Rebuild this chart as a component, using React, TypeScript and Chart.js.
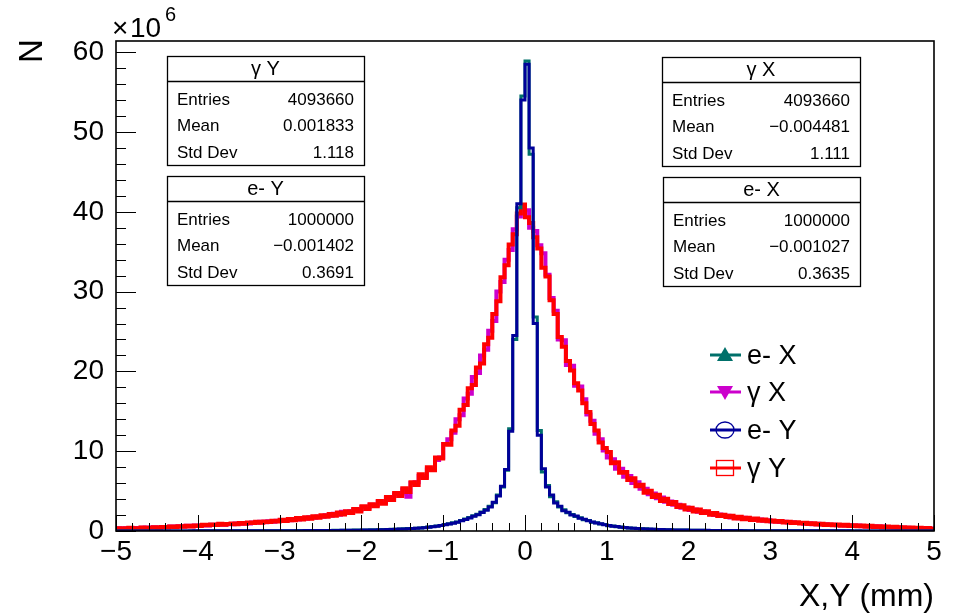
import React, { useEffect, useRef } from 'react';
import { Chart, registerables } from 'chart.js';

Chart.register(...registerables);

// ---------- data (values in units of 10^6) ----------
const X_MIN = -5;
const X_MAX = 5;
const BIN_WIDTH = 0.05;
const Y_MAX = 61.4;
const X_TICKS = [-5, -4, -3, -2, -1, 0, 1, 2, 3, 4, 5];
const Y_TICKS = [0, 10, 20, 30, 40, 50, 60];

const GAMMA_Y = [
  0.36, 0.25, 0.33, 0.41, 0.28, 0.35, 0.44, 0.32, 0.4, 0.47, 0.38, 0.5, 0.43, 0.55, 0.46, 0.6, 0.52, 0.66, 0.57, 0.7,
  0.64, 0.79, 0.71, 0.83, 0.74, 0.9, 0.78, 0.87, 0.95, 0.84, 1.0, 0.92, 1.07, 0.99, 1.15, 1.04, 1.2, 1.14, 1.3, 1.19,
  1.42, 1.24, 1.5, 1.36, 1.62, 1.44, 1.72, 1.52, 1.85, 1.66, 1.98, 1.78, 2.14, 1.92, 2.32, 2.08, 2.48, 2.24, 2.75, 2.45,
  3.1, 2.75, 3.35, 3.1, 3.75, 3.4, 4.25, 3.9, 4.75, 4.4, 5.35, 4.9, 6.1, 5.75, 7.1, 6.65, 8.0, 7.6, 9.2, 9.1,
  10.9, 10.8, 12.6, 13.2, 15.2, 15.8, 17.9, 18.3, 20.5, 21.0, 23.4, 24.2, 27.2, 28.8, 31.8, 33.3, 35.9, 37.2, 39.8, 40.9,
  39.3, 38.6, 36.8, 35.4, 33.0, 31.9, 28.9, 27.2, 24.3, 23.1, 21.3, 20.1, 18.5, 17.6, 16.0, 14.9, 13.4, 12.6, 11.1, 10.4,
  9.9, 8.5, 8.6, 7.3, 7.4, 6.4, 6.6, 5.6, 5.8, 4.8, 5.05, 4.25, 4.55, 3.75, 4.05, 3.38, 3.62, 3.02, 3.22, 2.7,
  2.9, 2.44, 2.68, 2.25, 2.46, 2.05, 2.26, 1.88, 2.05, 1.74, 1.9, 1.58, 1.78, 1.48, 1.67, 1.38, 1.56, 1.3, 1.44, 1.21,
  1.32, 1.15, 1.24, 1.07, 1.17, 1.0, 1.1, 0.94, 1.04, 0.87, 0.97, 0.82, 0.92, 0.76, 0.86, 0.72, 0.81, 0.67, 0.77, 0.63,
  0.73, 0.58, 0.69, 0.53, 0.65, 0.49, 0.6, 0.45, 0.56, 0.41, 0.52, 0.38, 0.48, 0.34, 0.44, 0.31, 0.41, 0.28, 0.37, 0.27,
];

const GAMMA_X = [
  0.33, 0.29, 0.36, 0.33, 0.39, 0.35, 0.4, 0.43, 0.4, 0.47, 0.44, 0.51, 0.47, 0.56, 0.52, 0.61, 0.57, 0.65, 0.61, 0.7,
  0.68, 0.75, 0.7, 0.79, 0.74, 0.83, 0.79, 0.88, 0.84, 0.94, 0.9, 1.0, 0.95, 1.07, 1.02, 1.15, 1.09, 1.22, 1.16, 1.3,
  1.27, 1.38, 1.36, 1.5, 1.45, 1.62, 1.55, 1.72, 1.66, 1.82, 1.8, 1.98, 1.92, 2.15, 2.05, 2.4, 2.3, 2.48, 2.7, 2.62,
  3.0, 2.95, 3.3, 3.25, 3.7, 3.6, 4.1, 4.2, 4.6, 4.7, 5.2, 4.3, 6.0, 6.1, 6.9, 6.8, 7.7, 7.8, 8.9, 9.2,
  10.9, 11.5, 12.3, 14.0, 14.5, 16.6, 17.2, 19.3, 19.8, 22.0, 22.7, 25.1, 26.3, 30.0, 31.2, 34.0, 35.2, 37.8, 39.4, 40.5,
  40.2, 38.0, 37.6, 35.8, 34.8, 32.1, 29.2, 27.6, 24.0, 23.9, 20.8, 20.7, 18.2, 18.1, 16.5, 14.6, 13.8, 12.2, 11.5, 10.1,
  9.2, 9.0, 7.8, 7.8, 6.8, 6.9, 6.0, 6.1, 5.3, 5.3, 4.6, 4.7, 4.1, 4.2, 3.65, 3.7, 3.3, 3.3, 2.9, 2.95,
  2.62, 2.7, 2.4, 2.45, 2.28, 2.24, 2.02, 2.08, 1.88, 1.9, 1.7, 1.76, 1.6, 1.66, 1.52, 1.5, 1.4, 1.45, 1.3, 1.35,
  1.2, 1.25, 1.12, 1.16, 1.05, 1.09, 0.99, 1.01, 0.92, 0.96, 0.86, 0.9, 0.8, 0.84, 0.77, 0.79, 0.71, 0.75, 0.69, 0.71,
  0.63, 0.68, 0.58, 0.63, 0.56, 0.58, 0.49, 0.55, 0.47, 0.49, 0.41, 0.47, 0.39, 0.41, 0.36, 0.38, 0.31, 0.35, 0.3, 0.32,
];

const ELEC_Y = [
  0.009, 0.009, 0.01, 0.009, 0.01, 0.01, 0.011, 0.01, 0.011, 0.012,
  0.011, 0.012, 0.012, 0.013, 0.012, 0.013, 0.014, 0.014, 0.015, 0.016,
  0.016, 0.017, 0.017, 0.018, 0.019, 0.02, 0.02, 0.021, 0.022, 0.023,
  0.024, 0.025, 0.026, 0.027, 0.028, 0.029, 0.03, 0.031, 0.033, 0.034,
  0.035, 0.037, 0.039, 0.041, 0.043, 0.045, 0.048, 0.05, 0.053, 0.056,
  0.06, 0.063, 0.067, 0.072, 0.076, 0.081, 0.086, 0.091, 0.097, 0.103,
  0.11, 0.12, 0.13, 0.14, 0.15, 0.165, 0.18, 0.2, 0.215, 0.235,
  0.26, 0.29, 0.31, 0.35, 0.38, 0.42, 0.47, 0.53, 0.6, 0.68,
  0.78, 0.88, 0.98, 1.1, 1.28, 1.45, 1.62, 1.85, 2.05, 2.32,
  2.6, 3.02, 3.6, 4.4, 5.6, 7.7, 12.5, 24.5, 41.0, 54.0,
  58.5, 48.0, 26.0, 12.0, 7.8, 5.5, 4.5, 3.5, 3.1, 2.55,
  2.35, 2.0, 1.88, 1.6, 1.47, 1.27, 1.14, 0.99, 0.92, 0.78,
  0.7, 0.58, 0.55, 0.46, 0.44, 0.37, 0.35, 0.3, 0.29, 0.25,
  0.24, 0.22, 0.2, 0.18, 0.17, 0.15, 0.14, 0.13, 0.12, 0.11,
  0.1, 0.095, 0.09, 0.085, 0.08, 0.075, 0.07, 0.066, 0.062, 0.058,
  0.055, 0.052, 0.049, 0.046, 0.044, 0.042, 0.04, 0.038, 0.036, 0.034,
  0.032, 0.031, 0.03, 0.029, 0.028, 0.027, 0.026, 0.025, 0.024, 0.023,
  0.022, 0.021, 0.02, 0.02, 0.019, 0.018, 0.018, 0.017, 0.016, 0.016,
  0.015, 0.015, 0.014, 0.014, 0.013, 0.013, 0.012, 0.012, 0.012, 0.011,
  0.011, 0.011, 0.01, 0.01, 0.01, 0.01, 0.009, 0.009, 0.009, 0.009,
];

const ELEC_X = [
  0.01, 0.009, 0.009, 0.01, 0.011, 0.01, 0.01, 0.012, 0.011, 0.011,
  0.012, 0.012, 0.013, 0.012, 0.014, 0.013, 0.015, 0.015, 0.016, 0.015,
  0.017, 0.018, 0.018, 0.019, 0.02, 0.021, 0.021, 0.022, 0.024, 0.024,
  0.025, 0.027, 0.027, 0.029, 0.03, 0.031, 0.033, 0.034, 0.036, 0.037,
  0.039, 0.041, 0.043, 0.046, 0.048, 0.051, 0.054, 0.057, 0.06, 0.064,
  0.068, 0.072, 0.077, 0.082, 0.087, 0.093, 0.099, 0.106, 0.113, 0.12,
  0.128, 0.137, 0.147, 0.158, 0.17, 0.183, 0.197, 0.212, 0.228, 0.246,
  0.27, 0.3, 0.32, 0.36, 0.39, 0.44, 0.49, 0.56, 0.63, 0.7,
  0.82, 0.9, 1.03, 1.14, 1.33, 1.5, 1.68, 1.9, 2.1, 2.38,
  2.68, 3.1, 3.55, 4.5, 5.5, 7.6, 12.8, 24.0, 40.5, 54.5,
  58.9, 47.2, 26.8, 12.6, 7.4, 5.7, 4.3, 3.65, 3.0, 2.65,
  2.28, 2.08, 1.82, 1.66, 1.42, 1.32, 1.1, 1.04, 0.88, 0.82,
  0.67, 0.62, 0.52, 0.49, 0.42, 0.39, 0.33, 0.32, 0.27, 0.27,
  0.23, 0.23, 0.19, 0.19, 0.16, 0.16, 0.13, 0.135, 0.115, 0.115,
  0.098, 0.097, 0.088, 0.087, 0.078, 0.077, 0.068, 0.068, 0.06, 0.06,
  0.053, 0.054, 0.047, 0.048, 0.042, 0.044, 0.038, 0.04, 0.034, 0.036,
  0.031, 0.032, 0.029, 0.03, 0.027, 0.028, 0.025, 0.026, 0.023, 0.024,
  0.021, 0.022, 0.019, 0.021, 0.018, 0.019, 0.017, 0.018, 0.015, 0.017,
  0.014, 0.016, 0.013, 0.015, 0.012, 0.014, 0.011, 0.013, 0.011, 0.012,
  0.01, 0.012, 0.009, 0.011, 0.009, 0.011, 0.008, 0.01, 0.008, 0.01,
];

const SERIES_LABELS = ['e- X', 'γ X', 'e- Y', 'γ Y'];
const SERIES_COLORS = ['#00706a', '#cc00cc', '#000099', '#ff0000'];
const SERIES_MARKERS = ['triangleUp', 'triangleDown', 'openCircle', 'openSquare'];

const STAT_TITLES = ['γ Y', 'e- Y', 'γ X', 'e- X'];
const STAT_ENTRIES = ['4093660', '1000000', '4093660', '1000000'];
const STAT_MEANS = ['0.001833', '\u22120.001402', '\u22120.004481', '\u22120.001027'];
const STAT_STDDEVS = ['1.118', '0.3691', '1.111', '0.3635'];
const STAT_ROW_NAMES = ['Entries', 'Mean', 'Std Dev'];

const X_TITLE = 'X,Y (mm)';
const Y_TITLE = 'N';

// ---------- layout (not data) ----------
const W = 956;
const H = 614;
const FONT = '"Liberation Sans", Arial, Helvetica, sans-serif';
const STAT_BOXES = [
  { x: 167, y: 56, w: 197, h: 109 },
  { x: 167, y: 176, w: 197, h: 109 },
  { x: 662, y: 57, w: 198, h: 109 },
  { x: 663, y: 177, w: 197, h: 109 },
];
const LEGEND_ROWS_Y = [355, 392, 430, 468];

const buildSteps = (values: number[]) => {
  const n = values.length;
  const pts: { x: number; y: number }[] = [];
  for (let k = 0; k <= n; k++) {
    pts.push({ x: X_MIN + k * BIN_WIDTH, y: values[Math.min(k, n - 1)] });
  }
  return pts;
};

const fmtTick = (v: number) => (v < 0 ? '\u2212' + Math.abs(v) : String(v));

const drawMarker = (ctx: CanvasRenderingContext2D, kind: string, cx: number, cy: number, color: string) => {
  ctx.save();
  ctx.fillStyle = color;
  ctx.strokeStyle = color;
  ctx.lineWidth = 1.3;
  if (kind === 'triangleUp') {
    ctx.beginPath();
    ctx.moveTo(cx, cy - 8);
    ctx.lineTo(cx + 8, cy + 6);
    ctx.lineTo(cx - 8, cy + 6);
    ctx.closePath();
    ctx.fill();
  } else if (kind === 'triangleDown') {
    ctx.beginPath();
    ctx.moveTo(cx, cy + 8);
    ctx.lineTo(cx + 8, cy - 6);
    ctx.lineTo(cx - 8, cy - 6);
    ctx.closePath();
    ctx.fill();
  } else if (kind === 'openCircle') {
    ctx.beginPath();
    ctx.ellipse(cx, cy, 9, 8, 0, 0, Math.PI * 2);
    ctx.stroke();
  } else {
    ctx.strokeRect(cx - 8.5, cy - 7.5, 17, 15);
  }
  ctx.restore();
};

const decorPlugin = {
  id: 'rootDecor',
  afterDraw(chart: any) {
    const { ctx, chartArea: a, scales } = chart;
    const xs = scales.x;
    const ys = scales.y;
    ctx.save();
    // frame
    ctx.strokeStyle = '#000';
    ctx.lineWidth = 1.6;
    ctx.strokeRect(a.left, a.top, a.right - a.left, a.bottom - a.top);

    // ticks
    ctx.lineWidth = 1;
    ctx.beginPath();
    for (let k = 0; k < X_TICKS.length; k++) {
      const px = Math.round(xs.getPixelForValue(X_TICKS[k])) + 0.5;
      ctx.moveTo(px, a.bottom);
      ctx.lineTo(px, a.bottom - 16);
      if (k < X_TICKS.length - 1) {
        for (let m = 1; m < 5; m++) {
          const v = X_TICKS[k] + ((X_TICKS[k + 1] - X_TICKS[k]) * m) / 5;
          const p = Math.round(xs.getPixelForValue(v)) + 0.5;
          ctx.moveTo(p, a.bottom);
          ctx.lineTo(p, a.bottom - 8);
        }
      }
    }
    for (let k = 0; k < Y_TICKS.length; k++) {
      const py = Math.round(ys.getPixelForValue(Y_TICKS[k])) + 0.5;
      ctx.moveTo(a.left, py);
      ctx.lineTo(a.left + 20, py);
      if (k < Y_TICKS.length - 1) {
        for (let m = 1; m < 5; m++) {
          const v = Y_TICKS[k] + ((Y_TICKS[k + 1] - Y_TICKS[k]) * m) / 5;
          const p = Math.round(ys.getPixelForValue(v)) + 0.5;
          ctx.moveTo(a.left, p);
          ctx.lineTo(a.left + 10, p);
        }
      }
    }
    ctx.stroke();

    // axis titles
    ctx.fillStyle = '#000';
    ctx.font = `32px ${FONT}`;
    ctx.textAlign = 'right';
    ctx.textBaseline = 'alphabetic';
    ctx.fillText(X_TITLE, a.right, 606);
    ctx.save();
    ctx.translate(42, 51);
    ctx.rotate(-Math.PI / 2);
    ctx.textAlign = 'center';
    ctx.font = `33px ${FONT}`;
    ctx.fillText(Y_TITLE, 0, 0);
    ctx.restore();

    // x10^6
    ctx.textAlign = 'left';
    ctx.font = `28px ${FONT}`;
    ctx.fillText('\u00d7', 112, 37);
    ctx.fillText('10', 130, 37);
    ctx.font = `20px ${FONT}`;
    ctx.fillText('6', 165, 21);

    // stat boxes
    for (let b = 0; b < STAT_BOXES.length; b++) {
      const box = STAT_BOXES[b];
      ctx.fillStyle = '#fff';
      ctx.fillRect(box.x, box.y, box.w, box.h);
      ctx.strokeStyle = '#000';
      ctx.lineWidth = 1.3;
      ctx.strokeRect(box.x + 0.5, box.y + 0.5, box.w, box.h);
      ctx.beginPath();
      ctx.moveTo(box.x, box.y + 25.5);
      ctx.lineTo(box.x + box.w, box.y + 25.5);
      ctx.stroke();
      ctx.fillStyle = '#000';
      ctx.font = `20px ${FONT}`;
      ctx.textAlign = 'center';
      ctx.fillText(STAT_TITLES[b], box.x + box.w / 2, box.y + 19);
      const vals = [STAT_ENTRIES[b], STAT_MEANS[b], STAT_STDDEVS[b]];
      ctx.font = `17px ${FONT}`;
      for (let r = 0; r < 3; r++) {
        const by = box.y + 48.5 + r * 26.5;
        ctx.textAlign = 'left';
        ctx.fillText(STAT_ROW_NAMES[r], box.x + 10, by);
        ctx.textAlign = 'right';
        ctx.fillText(vals[r], box.x + box.w - 10, by);
      }
    }

    // legend
    for (let r = 0; r < SERIES_LABELS.length; r++) {
      const cy = LEGEND_ROWS_Y[r];
      const col = SERIES_COLORS[r];
      ctx.strokeStyle = col;
      ctx.lineWidth = 3;
      ctx.beginPath();
      ctx.moveTo(710, cy);
      ctx.lineTo(741, cy);
      ctx.stroke();
      drawMarker(ctx, SERIES_MARKERS[r], 725, cy, col);
      ctx.fillStyle = '#000';
      ctx.font = `27px ${FONT}`;
      ctx.textAlign = 'left';
      ctx.fillText(SERIES_LABELS[r], 747, cy + 9);
    }
    ctx.restore();
  },
};

export default function App() {
  const ref = useRef<HTMLCanvasElement | null>(null);
  useEffect(() => {
    if (!ref.current) return;
    const mk = (label: string, values: number[], color: string, width: number) => ({
      label,
      data: buildSteps(values),
      borderColor: color,
      borderWidth: width,
      stepped: 'before',
      pointRadius: 0,
      fill: false,
      borderJoinStyle: 'miter',
      borderCapStyle: 'butt',
    });
    const chart = new Chart(ref.current, {
      type: 'line',
      data: {
        datasets: [
          mk(SERIES_LABELS[2], ELEC_Y, SERIES_COLORS[2], 3),
          mk(SERIES_LABELS[0], ELEC_X, SERIES_COLORS[0], 3),
          mk(SERIES_LABELS[3], GAMMA_Y, SERIES_COLORS[3], 4),
          mk(SERIES_LABELS[1], GAMMA_X, SERIES_COLORS[1], 4),
        ] as any,
      },
      options: {
        animation: false,
        responsive: false,
        devicePixelRatio: 1,
        parsing: false as any,
        normalized: true,
        layout: { padding: { left: 0, top: 41, right: W - 934, bottom: 0 } },
        plugins: { legend: { display: false }, tooltip: { enabled: false } },
        scales: {
          x: {
            type: 'linear',
            min: X_MIN,
            max: X_MAX,
            grid: { display: false, drawTicks: false },
            border: { display: false },
            afterBuildTicks: (s: any) => { s.ticks = X_TICKS.map((v) => ({ value: v })); },
            afterFit: (s: any) => { s.height = H - 531; s.paddingLeft = 0; s.paddingRight = 0; },
            ticks: {
              color: '#000',
              font: { family: FONT, size: 28 },
              padding: 4,
              maxRotation: 0,
              autoSkip: false,
              callback: (v: any) => fmtTick(Number(v)),
            },
          },
          y: {
            type: 'linear',
            min: 0,
            max: Y_MAX,
            grid: { display: false, drawTicks: false },
            border: { display: false },
            afterBuildTicks: (s: any) => { s.ticks = Y_TICKS.map((v) => ({ value: v })); },
            afterFit: (s: any) => { s.width = 116; s.paddingTop = 0; s.paddingBottom = 0; },
            ticks: {
              color: '#000',
              font: { family: FONT, size: 28 },
              padding: 12,
              autoSkip: false,
              callback: (v: any) => String(v),
            },
          },
        },
      } as any,
      plugins: [decorPlugin],
    });
    return () => chart.destroy();
  }, []);
  return (
    <div style={{ position: 'absolute', left: 0, top: 0, width: W, height: H, background: '#fff' }}>
      <canvas ref={ref} width={W} height={H} style={{ display: 'block' }} />
    </div>
  );
}
